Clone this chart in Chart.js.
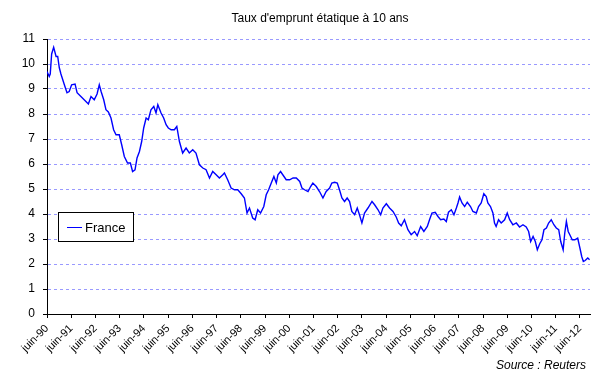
<!DOCTYPE html>
<html>
<head>
<meta charset="utf-8">
<script src="https://cdn.jsdelivr.net/npm/chart.js@4/dist/chart.umd.min.js"></script>
<style>
  body { margin: 0; background: #fff; }
  #wrap { width: 606px; height: 376px; }
</style>
</head>
<body>
<div id="wrap"><canvas id="myChart" width="606" height="376"></canvas></div>
<script>
// months counted from juin-90 (0), rate in %
var months = [
	0, 1.1, 1.6, 2.3, 3.3, 4.5, 5.3, 6.1, 6.9, 8.6, 9.9, 11, 12.2, 13.9, 14.9, 16.8,
	20.5, 21.8, 23.4, 24.8, 25.9, 26.8, 28.1, 29.2, 30.4, 31.7, 33, 34.2, 35.8, 37,
	38.3, 39.9, 41.3, 42.4, 43.6, 44.6, 45.8, 46.9, 47.9, 49.1, 50.2, 51.5, 52.9, 54,
	54.9, 56.5, 57.8, 59, 60.1, 61.5, 63.1, 64.3, 65.6, 67.2, 68.9, 70.5, 72.2, 73.8,
	75.5, 77.2, 78.8, 80.5, 82.1, 83.8, 85.4, 87.1, 87.9, 89.5, 91.2, 92.9, 94.5, 96.2,
	97.8, 99.1, 100.3, 101.9, 103.1, 104.4, 105.8, 107.4, 108.6, 109.8, 111.1, 112.4,
	113.6, 114.4, 115.7, 117.4, 118.5, 120.2, 121.9, 123.5, 125.2, 126.3, 127.6, 129.3,
	130.6, 131.7, 133.4, 135, 136.7, 138.3, 140, 141.1, 142.5, 143.8, 144.9, 146.1,
	147.4, 148.7, 149.9, 151, 152.4, 153.7, 154.8, 156, 157.3, 159, 161, 162.3, 164,
	165.3, 166.4, 168.1, 169.7, 171.4, 173, 174.2, 175.5, 177.1, 178.8, 180.4, 182.1,
	183.4, 185.1, 186.7, 188.4, 189.5, 190.7, 192.3, 193.7, 195, 196.6, 197.8, 198.9,
	200.3, 201.6, 202.8, 203.6, 204.4, 205.6, 206.9, 208.2, 209.8, 211, 212.7, 213.8,
	215.1, 216.4, 217.6, 218.4, 219.7, 220.9, 221.7, 222.5, 223.7, 225, 226.7, 228,
	229.2, 230.8, 232.5, 234.1, 235.8, 237.4, 238.6, 239.6, 240.8, 241.9, 242.9, 244.1,
	245.2, 246.2, 247.4, 248.5, 249.8, 251.1, 252.3, 253.5, 254.5, 255.7, 256.5, 257.3,
	258.2, 259, 260.2, 261.5, 262.9, 264, 264.9, 265.7, 266.6, 267.9, 268.8
];
var rates = [
	9.7, 9.5, 9.6, 10.4, 10.67, 10.3, 10.3, 9.85, 9.6, 9.17, 8.85, 8.9, 9.17, 9.2, 8.85, 8.7,
	8.4, 8.7, 8.57, 8.8, 9.17, 8.9, 8.57, 8.17, 8.08, 7.84, 7.37, 7.17, 7.17, 6.77,
	6.3, 6.04, 6.04, 5.7, 5.77, 6.24, 6.5, 6.9, 7.44, 7.84, 7.77, 8.17, 8.3, 8.04,
	8.37, 8.04, 7.84, 7.57, 7.44, 7.37, 7.37, 7.5, 6.9, 6.44, 6.64, 6.44, 6.57, 6.44,
	5.97, 5.84, 5.77, 5.44, 5.7, 5.57, 5.44, 5.57, 5.64, 5.37, 5.04, 4.97, 4.97, 4.81,
	4.64, 4.04, 4.24, 3.84, 3.77, 4.17, 4.04, 4.3, 4.77, 4.97, 5.24, 5.5,
	5.24, 5.57, 5.7, 5.5, 5.37, 5.37, 5.44, 5.44, 5.3, 5.04, 4.97, 4.9,
	5.1, 5.24, 5.1, 4.9, 4.64, 4.9, 5.04, 5.24, 5.27, 5.24, 4.97, 4.64,
	4.5, 4.64, 4.5, 4.1, 3.97, 4.24, 3.97, 3.64, 4.04, 4.24, 4.5, 4.37, 4.17,
	3.97, 4.24, 4.41, 4.24, 4.1, 3.88, 3.64, 3.53, 3.77, 3.37, 3.17, 3.3,
	3.13, 3.5, 3.3, 3.5, 3.77, 4.04, 4.07, 3.9, 3.77, 3.8, 3.7, 4.07,
	4.17, 3.97, 4.24, 4.44, 4.68, 4.44, 4.3, 4.47, 4.3, 4.1, 4.04, 4.3,
	4.44, 4.81, 4.7, 4.44, 4.3, 4.04, 3.64, 3.5, 3.77, 3.64, 3.77, 4.04,
	3.77, 3.57, 3.64, 3.48, 3.57, 3.48, 3.3, 2.9, 3.1, 2.9, 2.57, 2.81,
	2.97, 3.37, 3.44, 3.64, 3.77, 3.57, 3.44, 3.37, 2.9, 2.57, 3.24, 3.7,
	3.3, 3.17, 2.97, 2.97, 3.04, 2.64, 2.3, 2.1, 2.14, 2.24, 2.17
];
var xLabels = ['juin-90', 'juin-91', 'juin-92', 'juin-93', 'juin-94', 'juin-95', 'juin-96',
	'juin-97', 'juin-98', 'juin-99', 'juin-00', 'juin-01', 'juin-02', 'juin-03', 'juin-04',
	'juin-05', 'juin-06', 'juin-07', 'juin-08', 'juin-09', 'juin-10', 'juin-11', 'juin-12'];

var font = '"Liberation Sans", Arial, sans-serif';

var points = months.map(function(m, i) {
	return { x: m, y: rates[i] };
});

// title, legend box and source drawn on top
var decor = {
	id: 'decor',
	afterDraw: function(chart) {
		var ctx = chart.ctx;
		ctx.save();
		ctx.fillStyle = '#000';
		ctx.textAlign = 'center';
		ctx.textBaseline = 'middle';
		ctx.font = '12px ' + font;
		ctx.fillText("Taux d'emprunt étatique à 10 ans", 320, 19);

		ctx.fillStyle = '#fff';
		ctx.fillRect(58.5, 212.5, 75, 29);
		ctx.strokeStyle = '#000';
		ctx.lineWidth = 1;
		ctx.strokeRect(58.5, 212.5, 75, 29);
		ctx.strokeStyle = '#0000ff';
		ctx.beginPath();
		ctx.moveTo(67, 227.5);
		ctx.lineTo(82, 227.5);
		ctx.stroke();
		ctx.fillStyle = '#000';
		ctx.textAlign = 'left';
		ctx.font = '13px ' + font;
		ctx.fillText('France', 85, 228);

		ctx.textAlign = 'right';
		ctx.font = 'italic 12px ' + font;
		ctx.fillText('Source : Reuters', 586, 366);
		ctx.restore();
	}
};

var ctx = document.getElementById('myChart').getContext('2d');
var myChart = new Chart(ctx, {
	type: 'line',
	data: {
		datasets: [
			{
				label: 'France',
				data: points,
				borderColor: '#0000ff',
				borderWidth: 1.4,
				pointRadius: 0,
				tension: 0,
				fill: false
			}
		]
	},
	options: {
		responsive: false,
		animation: false,
		devicePixelRatio: 1,
		layout: { padding: { left: 0, top: 39, right: 16, bottom: 0 } },
		plugins: {
			legend: { display: false },
			tooltip: { enabled: false },
			title: { display: false }
		},
		scales: {
			x: {
				type: 'linear',
				min: 0,
				max: 269,
				afterFit: function(scale) { scale.height = 62; },
				afterBuildTicks: function(scale) {
					scale.ticks = xLabels.map(function(l, i) { return { value: i * 12 }; });
				},
				ticks: {
					autoSkip: false,
					minRotation: 45,
					maxRotation: 45,
					padding: 4,
					color: '#000',
					font: { family: font, size: 11 },
					callback: function(value, index) { return xLabels[index]; }
				},
				grid: {
					drawOnChartArea: false,
					drawTicks: true,
					tickLength: 4,
					tickColor: '#000',
					tickBorderDash: []
				},
				border: { color: '#000', width: 1 }
			},
			y: {
				min: 0,
				max: 11,
				afterFit: function(scale) { scale.width = 47; },
				ticks: {
					stepSize: 1,
					padding: 8,
					color: '#000',
					font: { family: font, size: 12 }
				},
				grid: {
					color: function(c) { return c.tick && c.tick.value === 0 ? 'rgba(0,0,0,0)' : '#9999ff'; },
					tickColor: '#000',
					tickLength: 4,
					tickBorderDash: []
				},
				border: { color: '#000', width: 1, dash: [3, 3] }
			}
		}
	},
	plugins: [decor]
});
</script>
</body>
</html>
